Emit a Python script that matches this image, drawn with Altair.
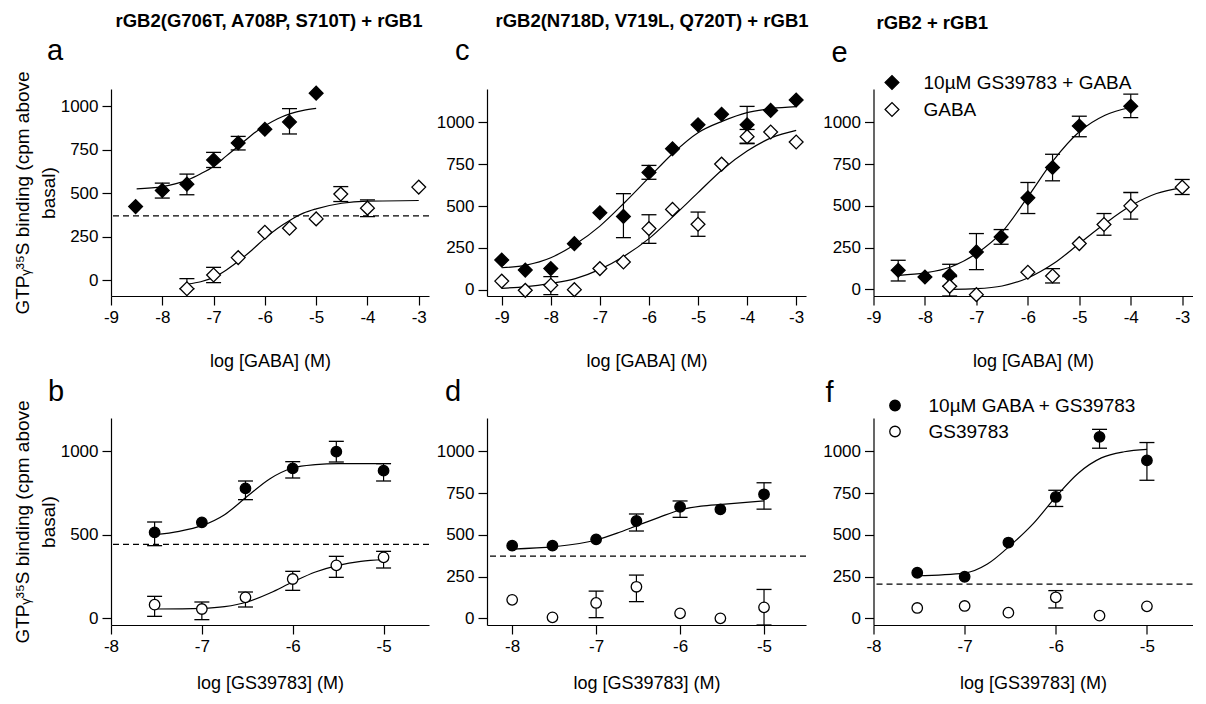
import altair as alt
import pandas as pd

FONT = "Liberation Sans"
MINUS = "replace(datum.label, '\u2212', '-')"

# ---------------- text ----------------
headers = ["rGB2(G706T, A708P, S710T) + rGB1", "rGB2(N718D, V719L, Q720T) + rGB1", "rGB2 + rGB1"]
letters = ["a", "b", "c", "d", "e", "f"]
x_title_gaba = "log [GABA] (M)"
x_title_gs = "log [GS39783] (M)"
y_title = ["GTP\u1d67\u00b3\u2075S binding (cpm above", "basal)"]
legend_e = ["10\u00b5M GS39783 + GABA", "GABA"]
legend_f = ["10\u00b5M GABA + GS39783", "GS39783"]

# ---------------- panel a ----------------
a_fill_x = [-8.52, -8, -7.52, -7, -6.52, -6, -5.52, -5]
a_fill_y = [423, 516, 552, 691, 789, 868, 910, 1076]
a_open_x = [-7.52, -7, -6.52, -6, -5.52, -5, -4.52, -4, -3]
a_open_y = [-50, 29, 129, 275, 298, 352, 495, 414, 535]
a_err_x = [-8, -7.52, -7, -6.52, -5.52, -7.52, -7, -4.52, -4]
a_err_lo = [472, 491, 648, 749, 841, -50, -15, 452, 365]
a_err_hi = [558, 610, 735, 827, 987, 8, 73, 538, 462]
a_fitf_x = [-8.5, -8, -7.75, -7.5, -7.25, -7, -6.75, -6.5, -6.25, -6, -5.75, -5.5, -5.25, -5]
a_fitf_y = [525, 538, 554, 577, 612, 654, 715, 775, 837, 888, 929, 958, 977, 988]
a_fito_x = [-7.5, -7.25, -7, -6.75, -6.5, -6.25, -6, -5.75, -5.5, -5.25, -5, -4.5, -4, -3]
a_fito_y = [-23, -10, 15, 58, 112, 173, 240, 298, 346, 385, 410, 442, 454, 458]
a_base = [369]

# ---------------- panel c ----------------
c_x = [-9, -8.52, -8, -7.52, -7, -6.52, -6, -5.52, -5, -4.52, -4, -3.52, -3]
c_fill_y = [177, 117, 126, 275, 460, 438, 701, 843, 986, 1049, 986, 1072, 1134]
c_open_y = [51, -4, 26, 0, 126, 165, 365, 480, 391, 751, 915, 943, 883]
c_err_x = [-6.52, -6, -4, -8, -6, -5, -4]
c_err_lo = [311, 660, 876, -30, 277, 319, 873]
c_err_hi = [574, 743, 1096, 78, 448, 464, 958]
c_fit_x = [-9, -8.5, -8, -7.5, -7, -6.5, -6, -5.5, -5, -4.5, -4, -3.5, -3]
c_fitf_y = [131, 147, 191, 271, 380, 520, 670, 819, 939, 1008, 1059, 1083, 1094]
c_fito_y = [8, 18, 38, 66, 121, 201, 305, 440, 580, 719, 829, 909, 953]

# ---------------- panel e ----------------
e_fill_x = [-8.52, -8, -7.52, -7, -6.52, -6, -5.52, -5, -4]
e_fill_y = [114, 74, 84, 224, 314, 548, 730, 978, 1097]
e_open_x = [-7.52, -7, -6, -5.52, -5, -4.52, -4, -3]
e_open_y = [18, -32, 102, 80, 274, 388, 500, 612]
e_err_x = [-8.52, -7.52, -7, -6.52, -6, -5.52, -5, -4, -7.52, -5.52, -4.52, -4, -3]
e_err_lo = [50, 18, 118, 270, 454, 650, 914, 1029, -40, 38, 324, 420, 568]
e_err_hi = [174, 150, 334, 358, 640, 809, 1037, 1169, 76, 124, 454, 580, 658]
e_fitf_x = [-8.5, -8, -7.5, -7, -6.5, -6, -5.5, -5, -4.5, -4]
e_fitf_y = [84, 98, 134, 214, 344, 554, 774, 944, 1043, 1089]
e_fito_x = [-7.5, -7, -6.5, -6, -5.5, -5, -4.5, -4, -3.5, -3]
e_fito_y = [0, 4, 20, 68, 154, 274, 394, 500, 574, 608]

# ---------------- panel b ----------------
b_x = [-7.52, -7, -6.52, -6, -5.52, -5]
b_fill_y = [514, 574, 778, 898, 998, 884]
b_open_y = [80, 54, 124, 234, 316, 364]
b_err_x = [-7.52, -6.52, -6, -5.52, -5, -7.52, -7, -6.52, -6, -5.52, -5]
b_err_lo = [434, 710, 840, 936, 822, 10, -10, 66, 166, 244, 300]
b_err_hi = [576, 822, 938, 1060, 926, 130, 96, 156, 280, 370, 400]
b_fitf_x = [-7.52, -7.25, -7, -6.75, -6.5, -6.25, -6, -5.75, -5.5, -5]
b_fitf_y = [500, 520, 554, 620, 730, 836, 900, 920, 926, 926]
b_fito_x = [-7.52, -7, -6.75, -6.5, -6.25, -6, -5.75, -5.5, -5.25, -5]
b_fito_y = [54, 58, 68, 96, 150, 216, 276, 316, 340, 350]
b_base = [442]

# ---------------- panel d ----------------
d_x = [-8, -7.52, -7, -6.52, -6, -5.52, -5]
d_fill_y = [435, 435, 473, 583, 668, 653, 743]
d_open_y = [111, 6, 92, 189, 30, 0, 66]
d_err_x = [-6.52, -6, -5, -7, -6.52, -5]
d_err_lo = [523, 605, 654, 4, 100, -40]
d_err_hi = [625, 703, 812, 163, 259, 173]
d_fit_x = [-8, -7.5, -7, -6.75, -6.5, -6.25, -6, -5.75, -5.5, -5]
d_fit_y = [415, 429, 469, 510, 558, 605, 649, 672, 683, 703]
d_base = [373]

# ---------------- panel f ----------------
f_x = [-7.52, -7, -6.52, -6, -5.52, -5]
f_fill_y = [273, 249, 454, 727, 1087, 946]
f_open_y = [62, 74, 34, 126, 16, 72]
f_err_x = [-6, -5.52, -5, -6]
f_err_lo = [670, 1019, 827, 62]
f_err_hi = [767, 1132, 1053, 166]
f_fit_x = [-7.52, -7, -6.75, -6.5, -6.25, -6, -5.75, -5.5, -5.25, -5]
f_fit_y = [255, 271, 325, 436, 566, 728, 871, 961, 998, 1012]
f_base = [205]

TOP_X = [-9, -8, -7, -6, -5, -4, -3]
BOT_X = [-8, -7, -6, -5]
Y_FULL = [0, 250, 500, 750, 1000]
Y_B = [0, 500, 1000]


def series(xs, ys, key):
    return pd.DataFrame({"x": xs, "y": ys, "s": key})


def panel(xdom, ydom, xvals, yvals, xtitle, ytitle, xpad,
          pts, fits, err, base, shape, size, labels, legend,
          header, header_pos, letter, letter_pos, w, h):
    ax_x = alt.Axis(values=xvals, title=xtitle, titlePadding=xpad, labelExpr=MINUS)
    if ytitle is not None:
        ax_y = alt.Axis(values=yvals, title=ytitle, titlePadding=2, titleLineHeight=26,
                        titleFontSize=19, format="d")
    else:
        ax_y = alt.Axis(values=yvals, title=None, format="d")
    sx = alt.Scale(domain=xdom, nice=False, zero=False)
    sy = alt.Scale(domain=ydom, nice=False, zero=False)
    X = alt.X("x:Q", scale=sx, axis=ax_x)

    layers = []
    fit_df = pd.concat(fits, ignore_index=True)
    layers.append(alt.Chart(fit_df).mark_line(color="black", strokeWidth=1.2, interpolate="monotone")
                  .encode(x=X, y=alt.Y("y:Q", scale=sy, axis=ax_y), detail="s:N"))
    if base is not None:
        layers.append(alt.Chart(pd.DataFrame({"y": base})).mark_rule(color="black", strokeWidth=1.2, strokeDash=[6, 4])
                      .encode(y=alt.Y("y:Q", scale=sy, axis=ax_y)))
    edf = pd.DataFrame({"x": err[0], "lo": err[1], "hi": err[2]})
    layers.append(alt.Chart(edf).mark_rule(color="black", strokeWidth=1.2)
                  .encode(x=X, y=alt.Y("lo:Q", scale=sy, axis=ax_y), y2="hi:Q"))
    for col in ["lo", "hi"]:
        layers.append(alt.Chart(edf).mark_tick(orient="horizontal", size=15, thickness=1.3, color="black", opacity=1)
                      .encode(x=X, y=alt.Y(col + ":Q", scale=sy, axis=ax_y)))
    pdf = pd.concat(pts, ignore_index=True)
    fill = alt.Fill("s:N", scale=alt.Scale(domain=labels, range=["black", "white"]), legend=legend)
    layers.append(alt.Chart(pdf).mark_point(shape=shape, size=size, opacity=1, fillOpacity=1,
                                            stroke="black", strokeWidth=1.3)
                  .encode(x=X, y=alt.Y("y:Q", scale=sy, axis=ax_y), fill=fill))
    if header is not None:
        layers.append(alt.Chart(pd.DataFrame({"t": [header]}))
                      .mark_text(font=FONT, fontSize=18.5, fontWeight="bold", align=header_pos[2],
                                 baseline="alphabetic", color="black")
                      .encode(text="t:N", x=alt.value(header_pos[0]), y=alt.value(header_pos[1])))
    layers.append(alt.Chart(pd.DataFrame({"t": [letter]}))
                  .mark_text(font=FONT, fontSize=29, align="left", baseline="alphabetic", color="black")
                  .encode(text="t:N", x=alt.value(letter_pos[0]), y=alt.value(letter_pos[1])))
    return alt.layer(*layers).properties(width=w, height=h).resolve_scale(fill="independent")


W1, W2, W3, H = 318, 319, 319, 207
leg_e = alt.Legend(orient="none", legendX=9, legendY=-16, title=None, symbolType="diamond", symbolSize=190,
                   symbolStrokeColor="black", symbolStrokeWidth=1.3, labelFontSize=19, labelFont=FONT,
                   labelColor="black", rowPadding=7, labelOffset=22, padding=0, labelLimit=400)
leg_f = alt.Legend(orient="none", legendX=12, legendY=-22, title=None, symbolType="circle", symbolSize=110,
                   symbolStrokeColor="black", symbolStrokeWidth=1.3, labelFontSize=19, labelFont=FONT,
                   labelColor="black", rowPadding=6, labelOffset=24, padding=0, labelLimit=400)

lab_ac = ["GS39783 + GABA", "GABA "]
lab_bd = ["GABA + GS39783", "GS39783 "]

pa = panel([-9, -2.8], [-92, 1100], TOP_X, Y_FULL, x_title_gaba, y_title, 27,
           [series(a_fill_x, a_fill_y, lab_ac[0]), series(a_open_x, a_open_y, lab_ac[1])],
           [series(a_fitf_x, a_fitf_y, "f"), series(a_fito_x, a_fito_y, "o")],
           (a_err_x, a_err_lo, a_err_hi), a_base, "diamond", 190, lab_ac, None,
           headers[0], (158, -62, "center"), letters[0], (-64, -29), W1, H)
pc = panel([-9.3, -2.8], [-38, 1200], TOP_X, Y_FULL, x_title_gaba, None, 27,
           [series(c_x, c_fill_y, lab_ac[0]), series(c_x, c_open_y, lab_ac[1])],
           [series(c_fit_x, c_fitf_y, "f"), series(c_fit_x, c_fito_y, "o")],
           (c_err_x, c_err_lo, c_err_hi), None, "diamond", 190, lab_ac, None,
           headers[1], (165, -62, "center"), letters[2], (-32, -29), W2, H)
pe = panel([-9, -2.8], [-40, 1200], TOP_X, Y_FULL, x_title_gaba, None, 27,
           [series(e_fill_x, e_fill_y, legend_e[0]), series(e_open_x, e_open_y, legend_e[1])],
           [series(e_fitf_x, e_fitf_y, "f"), series(e_fito_x, e_fito_y, "o")],
           (e_err_x, e_err_lo, e_err_hi), None, "diamond", 190, legend_e, leg_e,
           headers[2], (3, -60, "left"), letters[4], (-42, -27), W3, H)
pb = panel([-8, -4.5], [-42, 1200], BOT_X, Y_B, x_title_gs, y_title, 20,
           [series(b_x, b_fill_y, lab_bd[0]), series(b_x, b_open_y, lab_bd[1])],
           [series(b_fitf_x, b_fitf_y, "f"), series(b_fito_x, b_fito_y, "o")],
           (b_err_x, b_err_lo, b_err_hi), b_base, "circle", 110, lab_bd, None,
           None, None, letters[1], (-63, -17), W1, H)
pd_ = panel([-8.3, -4.5], [-40, 1200], BOT_X, Y_FULL, x_title_gs, None, 20,
            [series(d_x, d_fill_y, lab_bd[0]), series(d_x, d_open_y, lab_bd[1])],
            [series(d_fit_x, d_fit_y, "f")],
            (d_err_x, d_err_lo, d_err_hi), d_base, "circle", 110, lab_bd, None,
            None, None, letters[3], (-42, -17), W2, H)
pf = panel([-8, -4.5], [-40, 1200], BOT_X, Y_FULL, x_title_gs, None, 20,
           [series(f_x, f_fill_y, legend_f[0]), series(f_x, f_open_y, legend_f[1])],
           [series(f_fit_x, f_fit_y, "f")],
           (f_err_x, f_err_lo, f_err_hi), f_base, "circle", 110, legend_f, leg_f,
           None, None, letters[5], (-48, -16), W3, H)

row1 = alt.hconcat(pa, alt.hconcat(pc, pe, spacing=67.5, bounds="flush").resolve_scale(fill="independent"),
                   spacing=58, bounds="flush").resolve_scale(fill="independent")
row2 = alt.hconcat(pb, alt.hconcat(pd_, pf, spacing=67.5, bounds="flush").resolve_scale(fill="independent"),
                   spacing=58, bounds="flush").resolve_scale(fill="independent")
chart = (alt.vconcat(row1, row2, spacing=8)
         .resolve_scale(fill="independent")
         .properties(padding={"left": 13, "top": 12, "right": 5, "bottom": 5})
         .configure_view(stroke=None)
         .configure_axis(domainColor="black", tickColor="black", labelColor="black", titleColor="black",
                         domainWidth=1.2, tickWidth=1.2, tickSize=9, labelFontSize=17, titleFontSize=18,
                         labelFont=FONT, titleFont=FONT, titleFontWeight="normal", grid=False,
                         labelPadding=4, labelFlush=False, labelOverlap=False, labelBound=False))

chart.save("out.html", embed_options={"renderer": "svg", "actions": False})
